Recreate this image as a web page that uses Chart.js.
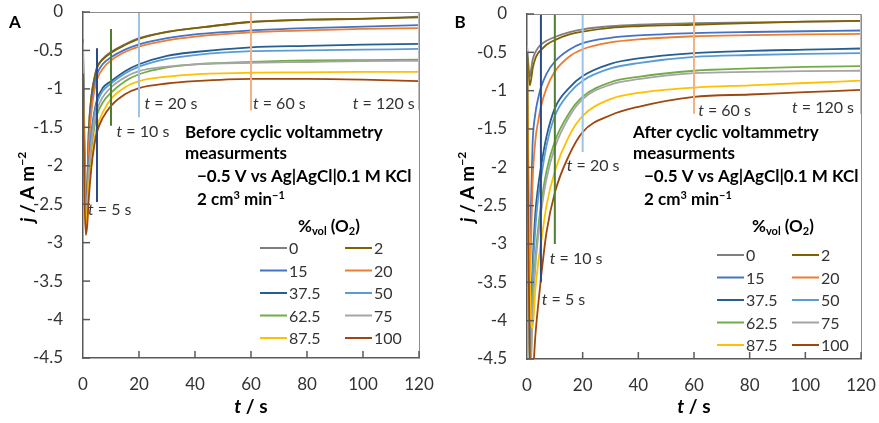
<!DOCTYPE html>
<html>
<head>
<meta charset="utf-8">
<script src="https://cdn.jsdelivr.net/npm/chart.js@4.4.1/dist/chart.umd.min.js"></script>
<style>
  html, body { margin: 0; padding: 0; background: #fff; }
  #wrap { position: relative; width: 879px; height: 423px; }
  .panel { position: absolute; top: 0; height: 423px; }
  #panelA { left: 0; width: 440px; }
  #panelB { left: 440px; width: 439px; }
</style>
</head>
<body>
<div id="wrap">
  <div class="panel" id="panelA"><canvas id="chartA" width="440" height="423"></canvas></div>
  <div class="panel" id="panelB"><canvas id="chartB" width="439" height="423"></canvas></div>
</div>
<script>
// O2 content of the feed gas (%vol), one curve each
const o2Levels = ["0", "2", "15", "20", "37.5", "50", "62.5", "75", "87.5", "100"];
const curveColors = ["#7f7f7f", "#806000", "#4472c4", "#ed7d31", "#255e91",
                     "#5b9bd5", "#70ad47", "#a5a5a5", "#ffc000", "#9e480e"];

// read-off times (s)
const times = [0, 0.5, 1, 1.5, 2, 3, 4, 5, 7, 10, 15, 20, 30, 40, 60, 80, 100, 120];

// Panel A - before cyclic voltammetry, j / A m^-2
const before_0    = [-0.35, -1.6, -2.5, -2.3, -1.6, -1.1, -0.87, -0.72, -0.61, -0.52, -0.42, -0.34, -0.26, -0.21, -0.13, -0.1, -0.085, -0.06];
const before_2    = [-0.5, -1.8, -2.6, -2.35, -1.62, -1.1, -0.88, -0.73, -0.62, -0.53, -0.43, -0.35, -0.26, -0.21, -0.13, -0.1, -0.09, -0.07];
const before_15   = [-0.6, -1.9, -2.6, -2.4, -1.75, -1.22, -0.97, -0.81, -0.68, -0.59, -0.49, -0.42, -0.34, -0.29, -0.24, -0.21, -0.19, -0.17];
const before_20   = [-0.8, -2.2, -2.85, -2.65, -1.85, -1.3, -1.04, -0.88, -0.74, -0.63, -0.52, -0.45, -0.37, -0.32, -0.265, -0.24, -0.22, -0.21];
const before_37_5 = [-0.7, -2.0, -2.65, -2.5, -2.1, -1.58, -1.31, -1.14, -0.99, -0.9, -0.77, -0.68, -0.57, -0.52, -0.46, -0.44, -0.425, -0.415];
const before_50   = [-0.7, -2.0, -2.6, -2.5, -2.12, -1.61, -1.34, -1.18, -1.03, -0.93, -0.8, -0.71, -0.61, -0.56, -0.51, -0.5, -0.49, -0.48];
const before_62_5 = [-0.9, -2.1, -2.7, -2.55, -2.22, -1.8, -1.51, -1.34, -1.18, -1.05, -0.9, -0.81, -0.72, -0.68, -0.65, -0.63, -0.625, -0.62];
const before_75   = [-0.4, -1.9, -2.6, -2.45, -2.12, -1.72, -1.43, -1.27, -1.11, -0.98, -0.85, -0.77, -0.71, -0.68, -0.66, -0.65, -0.64, -0.635];
const before_87_5 = [-0.9, -2.2, -2.75, -2.6, -2.32, -1.97, -1.67, -1.49, -1.31, -1.13, -0.98, -0.9, -0.84, -0.81, -0.79, -0.785, -0.78, -0.78];
const before_100  = [-0.8, -2.3, -2.9, -2.78, -2.46, -2.02, -1.74, -1.56, -1.38, -1.22, -1.07, -0.99, -0.93, -0.9, -0.87, -0.87, -0.88, -0.9];

// Panel B - after cyclic voltammetry, j / A m^-2
const after_0    = [-0.4, -0.65, -0.82, -0.72, -0.6, -0.5, -0.44, -0.4, -0.35, -0.3, -0.24, -0.2, -0.16, -0.14, -0.12, -0.11, -0.1, -0.09];
const after_2    = [-0.5, -0.75, -0.93, -0.85, -0.72, -0.58, -0.51, -0.47, -0.4, -0.34, -0.27, -0.23, -0.18, -0.16, -0.14, -0.12, -0.1, -0.09];
const after_15   = [-0.5, -2.2, -3.0, -2.4, -1.7, -1.3, -1.1, -0.96, -0.78, -0.62, -0.47, -0.38, -0.31, -0.28, -0.25, -0.235, -0.225, -0.215];
const after_20   = [-0.6, -2.5, -3.4, -2.9, -2.2, -1.65, -1.4, -1.21, -0.97, -0.75, -0.56, -0.46, -0.37, -0.33, -0.29, -0.275, -0.265, -0.26];
const after_37_5 = [-0.5, -3.0, -4.3, -3.9, -3.3, -2.6, -2.25, -2.0, -1.6, -1.23, -0.97, -0.81, -0.65, -0.58, -0.51, -0.48, -0.465, -0.45];
const after_50   = [-0.5, -3.1, -4.4, -4.0, -3.45, -2.8, -2.4, -2.15, -1.72, -1.33, -1.04, -0.87, -0.71, -0.64, -0.56, -0.535, -0.52, -0.51];
const after_62_5 = [-0.5, -3.5, -4.6, -4.4, -3.8, -3.2, -2.8, -2.5, -2.05, -1.66, -1.3, -1.08, -0.89, -0.82, -0.74, -0.71, -0.69, -0.68];
const after_75   = [-0.5, -3.6, -4.7, -4.5, -3.9, -3.3, -2.9, -2.6, -2.15, -1.74, -1.35, -1.11, -0.92, -0.85, -0.77, -0.755, -0.745, -0.74];
const after_87_5 = [-0.4, -2.0, -3.3, -4.05, -4.1, -3.6, -3.25, -3.0, -2.5, -2.05, -1.6, -1.33, -1.11, -1.03, -0.96, -0.93, -0.9, -0.87];
const after_100  = [-0.5, -3.0, -4.5, -5.0, -4.8, -4.2, -3.8, -3.45, -2.85, -2.33, -1.85, -1.54, -1.32, -1.21, -1.08, -1.05, -1.02, -0.99];

const beforeCV = [before_0, before_2, before_15, before_20, before_37_5, before_50, before_62_5, before_75, before_87_5, before_100];
const afterCV = [after_0, after_2, after_15, after_20, after_37_5, after_50, after_62_5, after_75, after_87_5, after_100];

// vertical time markers (s) and how far down each one reaches
const markerTimes = [5, 10, 20, 60, 120];
const markerColors = ["#2b4a8a", "#4e7f30", "#9dc3e6", "#f4b183", "#bfbfbf"];
const markerTopA = [-0.47, -0.22, 0, 0, 0];
const markerEndA = [-2.47, -1.48, -1.37, -1.28, -1.27];
const markerTopB = [0, 0, 0, 0, 0];
const markerEndB = [-3.5, -3.0, -1.8, -1.3, -1.3];

const FONT = "Lato, 'Open Sans', sans-serif";
const TEXT = "#333333";
const AXIS = "#595959";

// draw a run of text pieces with different fonts, one after the other
function drawRich(ctx, parts, x, y, align) {
  let total = 0;
  parts.forEach((p) => {
    ctx.font = p.font;
    total += ctx.measureText(p.text).width;
  });
  let cx = x;
  if (align === "center") cx = x - total / 2;
  if (align === "right") cx = x - total;
  ctx.textAlign = "left";
  ctx.textBaseline = "middle";
  parts.forEach((p) => {
    ctx.font = p.font;
    ctx.fillText(p.text, cx, y + (p.dy || 0));
    cx += ctx.measureText(p.text).width;
  });
}

function panelPlugin(panel) {
  return {
    id: "panel" + panel.letter,
    afterDraw(chart) {
      const ctx = chart.ctx;
      const area = chart.chartArea;
      const xs = chart.scales.x;
      const ys = chart.scales.y;
      ctx.save();

      // box round the plot, axes darker
      ctx.strokeStyle = "#8c8c8c";
      ctx.lineWidth = 1;
      ctx.beginPath();
      ctx.moveTo(area.left, area.top + 0.5);
      ctx.lineTo(area.right + 0.5, area.top + 0.5);
      ctx.lineTo(area.right + 0.5, area.bottom);
      ctx.stroke();

      // tick marks point into the plot
      ctx.strokeStyle = AXIS;
      ctx.lineWidth = 1.5;
      xs.ticks.forEach((t) => {
        if (t.value === 0) return;
        const px = xs.getPixelForValue(t.value);
        ctx.beginPath();
        ctx.moveTo(px, area.bottom);
        ctx.lineTo(px, area.bottom - 7);
        ctx.stroke();
      });
      ys.ticks.forEach((t) => {
        const py = ys.getPixelForValue(t.value);
        ctx.beginPath();
        ctx.moveTo(area.left, py);
        ctx.lineTo(area.left + 7, py);
        ctx.stroke();
      });

      // marker labels "t = .. s"
      ctx.fillStyle = TEXT;
      panel.markerLabels.forEach((m) => {
        drawRich(ctx, [
          { text: "t", font: "italic 16px " + FONT },
          { text: " = " + m.t + " s", font: "16px " + FONT },
        ], xs.getPixelForValue(m.x), ys.getPixelForValue(m.y), m.align);
      });

      // conditions note
      ctx.fillStyle = "#000";
      const b = "bold 17px " + FONT;
      const bs = "bold 11px " + FONT;
      const n = panel.note;
      drawRich(ctx, [{ text: panel.title, font: b }], n.x, n.y, "left");
      drawRich(ctx, [{ text: "measurments", font: b }], n.x, n.y + 21, "left");
      drawRich(ctx, [{ text: "\u22120.5 V vs Ag|AgCl|0.1 M KCl", font: b }], n.x2, n.y + 44, "left");
      drawRich(ctx, [
        { text: "2 cm", font: b },
        { text: "3", font: bs, dy: -5 },
        { text: " min", font: b },
        { text: "\u22121", font: bs, dy: -5 },
      ], n.x2, n.y + 67, "left");
      drawRich(ctx, [
        { text: "%", font: b },
        { text: "vol", font: bs, dy: 4 },
        { text: " (O", font: b },
        { text: "2", font: bs, dy: 4 },
        { text: ")", font: b },
      ], n.x3, n.y + 94, "left");

      // legend, two columns
      const lg = panel.legend;
      o2Levels.forEach((lab, i) => {
        const col = i % 2;
        const row = Math.floor(i / 2);
        const lx = lg.x[col];
        const ly = lg.y + row * lg.dy;
        ctx.strokeStyle = curveColors[i];
        ctx.lineWidth = 2;
        ctx.beginPath();
        ctx.moveTo(lx, ly);
        ctx.lineTo(lx + 27, ly);
        ctx.stroke();
        ctx.fillStyle = TEXT;
        drawRich(ctx, [{ text: lab, font: "16px " + FONT }], lx + 29, ly + 1, "left");
      });

      // panel letter
      ctx.fillStyle = "#000";
      drawRich(ctx, [{ text: panel.letter, font: "bold 17px " + FONT }], panel.letterX, 23, "center");

      // axis titles
      const tb = "bold 19px " + FONT;
      const tbi = "italic bold 19px " + FONT;
      drawRich(ctx, [
        { text: "t", font: tbi },
        { text: " / s", font: tb },
      ], (area.left + area.right) / 2, 407, "center");
      ctx.translate(panel.yTitleX, 187);
      ctx.rotate(-Math.PI / 2);
      drawRich(ctx, [
        { text: "j", font: tbi },
        { text: " / A m", font: tb },
        { text: "\u22122", font: "bold 12px " + FONT, dy: -6 },
      ], 0, 0, "center");
      ctx.restore();
    },
  };
}

function makeChart(canvasId, values, markerTop, markerEnd, geom, panel) {
  const datasets = values.map((vals, i) => ({
    label: o2Levels[i],
    data: times.map((t, k) => ({ x: t, y: vals[k] })),
    borderColor: curveColors[i],
    borderWidth: 1.8,
    pointRadius: 0,
    cubicInterpolationMode: "monotone",
    order: 20 - i,
  }));
  markerTimes.forEach((t, i) => {
    datasets.push({
      label: "t = " + t + " s",
      data: [{ x: t, y: markerTop[i] }, { x: t, y: markerEnd[i] }],
      borderColor: markerColors[i],
      borderWidth: 2,
      pointRadius: 0,
      order: 0,
    });
  });

  const tickFont = { family: FONT, size: 17 };
  return new Chart(document.getElementById(canvasId), {
    type: "line",
    data: { datasets },
    options: {
      responsive: false,
      animation: false,
      devicePixelRatio: 1,
      layout: { padding: { top: geom.top, right: geom.right, left: 0, bottom: 0 } },
      plugins: { legend: { display: false }, tooltip: { enabled: false } },
      scales: {
        x: {
          type: "linear",
          min: 0,
          max: 120,
          ticks: { stepSize: 20, font: tickFont, color: TEXT, padding: 16, maxRotation: 0 },
          grid: { display: false, drawTicks: false },
          border: { display: true, color: AXIS, width: 1.5 },
          // fixed band below the plot, no extra room for edge labels
          afterFit: (s) => {
            s.height = geom.xHeight;
            s.paddingLeft = 0;
            s.paddingRight = 0;
          },
        },
        y: {
          min: -4.5,
          max: 0,
          ticks: { stepSize: 0.5, font: tickFont, color: TEXT, padding: 20, callback: (v) => String(v) },
          grid: { display: false, drawTicks: false },
          border: { display: true, color: AXIS, width: 1.5 },
          afterFit: (s) => {
            s.width = geom.left;
            s.paddingTop = 0;
            s.paddingBottom = 0;
          },
        },
      },
    },
    plugins: [panelPlugin(panel)],
  });
}

makeChart("chartA", beforeCV, markerTopA, markerEndA,
  { left: 83, top: 12, right: 21, xHeight: 65 },
  {
    letter: "A", letterX: 15, yTitleX: 28,
    title: "Before cyclic voltammetry",
    note: { x: 185, x2: 197, x3: 298, y: 133 },
    legend: { x: [260, 345], y: 248, dy: 22.5 },
    markerLabels: [
      { t: 5, x: 1.8, y: -2.57, align: "left" },
      { t: 10, x: 12, y: -1.56, align: "left" },
      { t: 20, x: 22, y: -1.19, align: "left" },
      { t: 60, x: 60.7, y: -1.19, align: "left" },
      { t: 120, x: 118.5, y: -1.19, align: "right" },
    ],
  });

makeChart("chartB", afterCV, markerTopB, markerEndB,
  { left: 87, top: 14, right: 18, xHeight: 64 },
  {
    letter: "B", letterX: 20, yTitleX: 28,
    title: "After cyclic voltammetry",
    note: { x: 193, x2: 204, x3: 312, y: 133 },
    legend: { x: [277, 352], y: 255, dy: 22.5 },
    markerLabels: [
      { t: 5, x: 5.3, y: -3.73, align: "left" },
      { t: 10, x: 8.2, y: -3.2, align: "left" },
      { t: 20, x: 14.3, y: -1.98, align: "left" },
      { t: 60, x: 61.5, y: -1.26, align: "left" },
      { t: 120, x: 117.5, y: -1.22, align: "right" },
    ],
  });
</script>
</body>
</html>
